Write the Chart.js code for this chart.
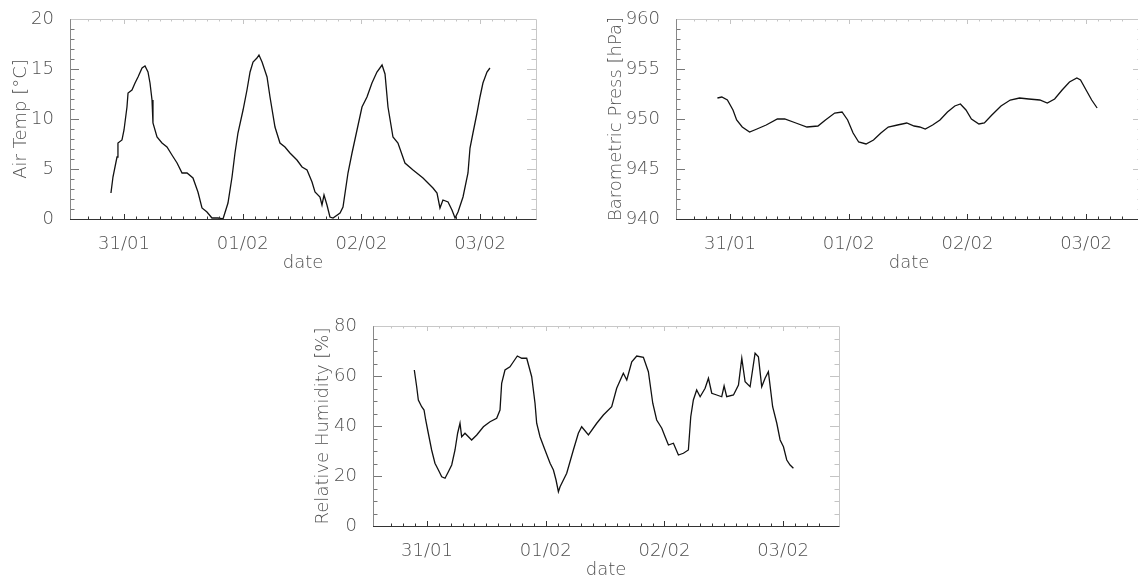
<!DOCTYPE html>
<html>
<head>
<meta charset="utf-8">
<script src="https://cdn.jsdelivr.net/npm/chart.js@4.4.0/dist/chart.umd.min.js"></script>
<style>
  html, body { margin: 0; padding: 0; background: #fff; overflow: hidden; }
  #page { position: relative; width: 1138px; height: 575px; overflow: hidden; }
  canvas { position: absolute; }
</style>
</head>
<body>
<div id="page">
  <canvas id="tempChart" width="560" height="290" style="left:0px;top:0px"></canvas>
  <canvas id="pressChart" width="560" height="290" style="left:606px;top:0px"></canvas>
  <canvas id="humChart" width="560" height="290" style="left:303px;top:307px"></canvas>
</div>
<script>
// x values are days after 31/01 00:00
const dayLabels = ['31/01', '01/02', '02/02', '03/02'];

const tempDays = [-0.110,-0.093,-0.059,-0.051,-0.017,0,0.025,0.034,0.067,0.093,0.118,0.152,0.177,0.202,0.219,0.236,0.244,0.278,0.320,0.362,0.404,0.447,0.489,0.531,0.581,0.623,0.657,0.699,0.741,0.792,0.834,0.876,0.910,0.935,0.960,1.003,1.036,1.062,1.087,1.120,1.137,1.163,1.205,1.230,1.272,1.314,1.356,1.398,1.457,1.500,1.542,1.584,1.609,1.651,1.668,1.685,1.710,1.735,1.761,1.820,1.845,1.887,1.921,1.963,2.005,2.047,2.089,2.131,2.174,2.199,2.224,2.266,2.308,2.367,2.435,2.519,2.603,2.637,2.662,2.687,2.730,2.763,2.789,2.814,2.856,2.898,2.915,2.940,2.974,2.999,3.024,3.058,3.083];
const tempVals = [2.6,4.2,6.2,7.6,7.9,8.9,11.2,12.6,12.9,13.6,14.2,15.1,15.3,14.7,13.6,11.9,9.6,8.2,7.6,7.2,6.4,5.6,4.6,4.6,4.1,2.7,1.1,0.7,0.1,0.1,0,1.6,4.2,6.6,8.6,10.9,12.9,14.7,15.7,16.1,16.4,15.7,14.2,12.2,9.2,7.6,7.2,6.6,5.9,5.2,4.9,3.7,2.7,2.2,1.4,2.4,1.4,0.2,0.1,0.6,1.2,4.6,6.6,8.9,11.2,12.2,13.6,14.7,15.4,14.5,11.2,8.2,7.6,5.6,4.9,4.1,3.1,2.6,1.1,1.9,1.7,0.9,0.1,0.7,2.2,4.6,7.1,8.6,10.6,12.2,13.6,14.7,15.1];

const pressDays = [-0.106,-0.069,-0.022,0.025,0.056,0.103,0.165,0.227,0.305,0.399,0.461,0.555,0.648,0.741,0.804,0.882,0.944,0.991,1.037,1.084,1.146,1.209,1.271,1.333,1.411,1.489,1.551,1.598,1.645,1.707,1.769,1.832,1.894,1.941,1.988,2.034,2.097,2.143,2.206,2.283,2.361,2.439,2.517,2.610,2.673,2.735,2.798,2.860,2.922,2.953,3.000,3.047,3.093];
const pressVals = [952.1,952.2,951.9,950.9,949.9,949.2,948.7,949.0,949.4,950.0,950.0,949.6,949.2,949.3,949.9,950.6,950.7,949.9,948.6,947.7,947.5,947.9,948.6,949.2,949.4,949.6,949.3,949.2,949.0,949.4,949.9,950.7,951.3,951.5,950.9,950.0,949.5,949.6,950.4,951.3,951.9,952.1,952.0,951.9,951.6,952.0,952.9,953.7,954.1,953.9,952.9,951.9,951.1];

const humDays = [-0.107,-0.087,-0.073,-0.045,-0.025,-0.011,0.011,0.039,0.067,0.096,0.124,0.152,0.180,0.208,0.236,0.258,0.278,0.292,0.320,0.376,0.419,0.475,0.531,0.587,0.615,0.629,0.657,0.699,0.728,0.761,0.798,0.840,0.882,0.910,0.924,0.952,0.994,1.037,1.065,1.087,1.107,1.121,1.177,1.233,1.275,1.303,1.360,1.430,1.486,1.556,1.598,1.654,1.683,1.725,1.767,1.823,1.865,1.902,1.935,1.978,2.006,2.034,2.076,2.118,2.160,2.202,2.222,2.244,2.272,2.301,2.343,2.371,2.399,2.441,2.483,2.503,2.525,2.582,2.624,2.652,2.680,2.722,2.764,2.792,2.820,2.848,2.876,2.912,2.947,2.975,3.003,3.031,3.059,3.087];
const humVals = [62.4,55.7,50.4,47.7,46.4,42.4,37.1,30.4,25.1,22.4,19.7,19.1,21.7,24.4,30.4,37.1,41.1,35.7,37.1,34.4,36.4,39.7,41.7,43.1,46.4,57.1,62.4,63.7,65.7,68.0,67.1,67.1,59.7,49.1,41.1,35.7,30.4,25.1,22.4,18.4,13.7,15.7,21.1,30.4,37.1,39.7,36.4,41.1,44.4,47.7,55.1,61.1,58.4,65.7,68.0,67.5,61.7,49.1,42.4,39.1,35.7,32.4,33.1,28.4,29.1,30.4,43.7,50.4,54.4,51.7,55.1,59.1,53.1,52.4,51.7,56.0,51.7,52.4,56.4,67.1,57.7,55.7,69.1,67.7,55.7,59.1,61.7,47.7,41.1,34.4,31.7,26.4,24.4,23.1];

const xMin = -0.455, xMax = 3.471;
const textColor = '#505050';
const font = { family: 'DejaVu Sans', size: 18, weight: '200' };

function isMult(v, step) {
    const r = v / step;
    return Math.abs(r - Math.round(r)) < 1e-6;
}

// IDL style frame : box all round, ticks pointing inwards
const frame = {
    id: 'frame',
    afterDatasetsDraw(chart, args, opts) {
        const { ctx, chartArea: a, scales: { x, y } } = chart;
        ctx.save();
        ctx.lineWidth = 1;

        x.ticks.forEach(t => {
            if (!isMult(t.value, opts.xMinor)) return;
            const px = Math.round(x.getPixelForValue(t.value)) + 0.5;
            const len = isMult(t.value, opts.xMajor) ? 5 : 2.5;
            ctx.strokeStyle = '#333';
            ctx.beginPath(); ctx.moveTo(px, a.bottom); ctx.lineTo(px, a.bottom - len); ctx.stroke();
            ctx.strokeStyle = '#c4c4c4';
            ctx.beginPath(); ctx.moveTo(px, a.top); ctx.lineTo(px, a.top + len); ctx.stroke();
        });
        y.ticks.forEach(t => {
            if (!isMult(t.value, opts.yMinor)) return;
            const py = Math.round(y.getPixelForValue(t.value)) + 0.5;
            const len = isMult(t.value, opts.yMajor) ? 9 : 4.5;
            ctx.strokeStyle = '#777';
            ctx.beginPath(); ctx.moveTo(a.left, py); ctx.lineTo(a.left + len, py); ctx.stroke();
            ctx.strokeStyle = '#c4c4c4';
            ctx.beginPath(); ctx.moveTo(a.right, py); ctx.lineTo(a.right - len, py); ctx.stroke();
        });

        const l = Math.round(a.left) + 0.5, r = Math.round(a.right) + 0.5;
        const tp = Math.round(a.top) + 0.5, b = Math.round(a.bottom) + 0.5;
        ctx.strokeStyle = '#c8c8c8';
        ctx.beginPath(); ctx.moveTo(l, tp); ctx.lineTo(r, tp); ctx.lineTo(r, b); ctx.stroke();
        ctx.strokeStyle = '#888';
        ctx.beginPath(); ctx.moveTo(l, tp); ctx.lineTo(l, b); ctx.stroke();
        ctx.strokeStyle = '#333';
        ctx.beginPath(); ctx.moveTo(l - 0.5, b); ctx.lineTo(r, b); ctx.stroke();
        ctx.restore();
    }
};

function makeChart(id, days, vals, yOpt) {
    const ctx = document.getElementById(id);
    const data = {
        datasets: [{
            data: days.map((d, i) => ({ x: d, y: vals[i] })),
            borderColor: '#111',
            borderWidth: 1.3,
            pointRadius: 0,
            tension: 0,
            fill: false
        }]
    };
    const config = {
        type: 'line',
        data: data,
        plugins: [frame],
        options: {
            responsive: false,
            animation: false,
            layout: { padding: { top: 19, right: 24, left: 0, bottom: 0 } },
            plugins: {
                legend: { display: false },
                tooltip: { enabled: false },
                frame: { xMajor: 1, xMinor: 0.1, yMajor: yOpt.major, yMinor: yOpt.minor }
            },
            scales: {
                x: {
                    type: 'linear',
                    min: xMin,
                    max: xMax,
                    grid: { display: false },
                    border: { display: false },
                    afterFit: s => { s.height = 71; },
                    ticks: {
                        stepSize: 0.1,
                        maxTicksLimit: 1000,
                        autoSkip: false,
                        maxRotation: 0,
                        padding: 7,
                        color: textColor,
                        font: font,
                        callback: v => {
                            const r = Math.round(v);
                            return isMult(v, 1) && r >= 0 && r < dayLabels.length ? dayLabels[r] : '';
                        }
                    },
                    title: {
                        display: true,
                        text: 'date',
                        color: textColor,
                        font: font,
                        padding: { top: 0, bottom: 16 }
                    }
                },
                y: {
                    min: yOpt.min,
                    max: yOpt.max,
                    grid: { display: false },
                    border: { display: false },
                    afterFit: s => { s.width = 70; },
                    ticks: {
                        stepSize: yOpt.minor,
                        maxTicksLimit: 1000,
                        autoSkip: false,
                        padding: 8,
                        color: textColor,
                        font: font,
                        callback: v => isMult(v, yOpt.major) ? v : ''
                    },
                    title: {
                        display: true,
                        text: yOpt.title,
                        color: textColor,
                        font: font,
                        padding: { top: yOpt.titlePad, bottom: 0 }
                    }
                }
            }
        }
    };
    return new Chart(ctx, config);
}

makeChart('tempChart', tempDays, tempVals,
    { min: 0, max: 20, major: 5, minor: 1, title: 'Air Temp [°C]', titlePad: 11 });
makeChart('pressChart', pressDays, pressVals,
    { min: 940, max: 960, major: 5, minor: 1, title: 'Barometric Press [hPa]', titlePad: 0 });
makeChart('humChart', humDays, humVals,
    { min: 0, max: 80, major: 20, minor: 5, title: 'Relative Humidity [%]', titlePad: 10 });
</script>
</body>
</html>
